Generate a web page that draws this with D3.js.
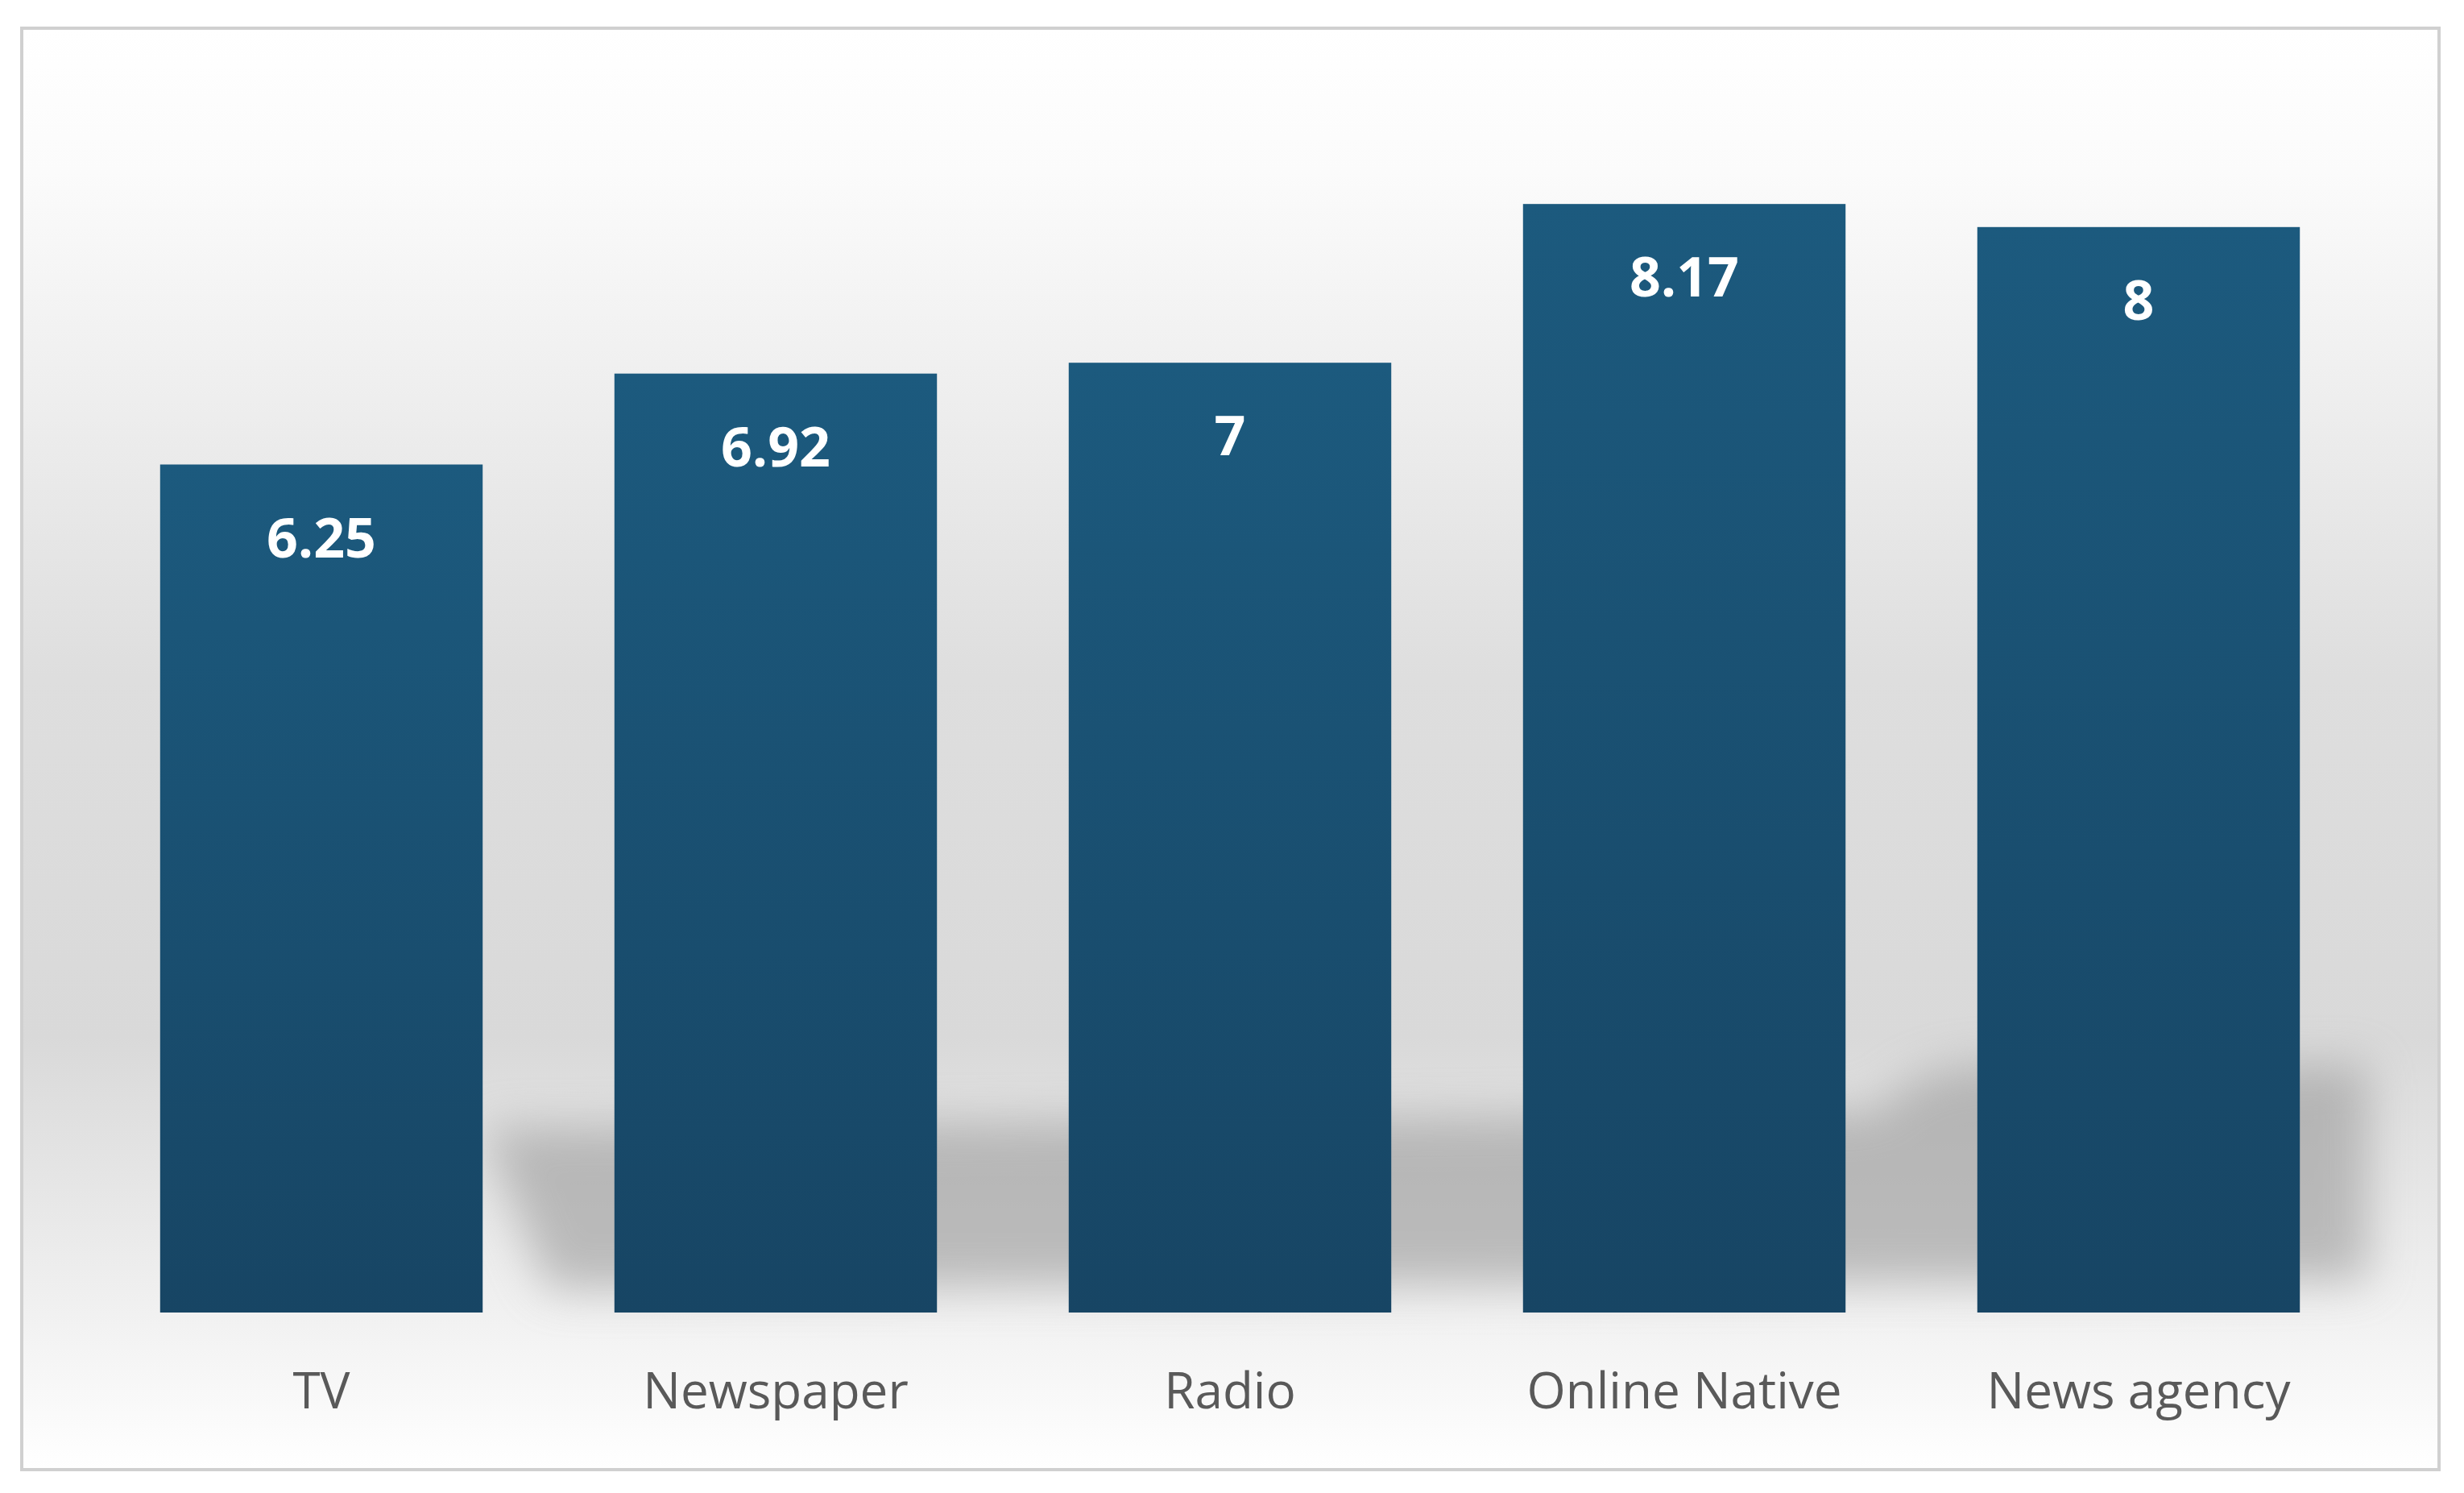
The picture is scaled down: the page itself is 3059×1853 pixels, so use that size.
<!DOCTYPE html>
<html><head><meta charset="utf-8">
<script src="https://cdn.jsdelivr.net/npm/d3@7"></script>
<style>body{margin:0;background:#fff}</style></head>
<body><svg id="c" width="3059" height="1853"></svg>
<script>
const categories = ["TV","Newspaper","Radio","Online Native","News agency"];
const values = [6.25, 6.92, 7, 8.17, 8];
const labels = ["6.25","6.92","7","8.17","8"];

const svg = d3.select("#c");
const defs = svg.append("defs");
const bg = defs.append("linearGradient").attr("id","bg").attr("x1",0).attr("y1",0).attr("x2",0).attr("y2",1);
[[0,"#ffffff"],[0.1,"#fbfbfb"],[0.45,"#dedede"],[0.7,"#d9d9d9"],[0.9,"#f2f2f2"],[1,"#ffffff"]].forEach(s=>bg.append("stop").attr("offset",s[0]).attr("stop-color",s[1]));
const bar = defs.append("linearGradient").attr("id","bar").attr("x1",0).attr("y1",0).attr("x2",0).attr("y2",1);
bar.append("stop").attr("offset",0).attr("stop-color","#1c5a7e");
bar.append("stop").attr("offset",1).attr("stop-color","#174564");
defs.append("filter").attr("id","blur").attr("x","-20%").attr("y","-50%").attr("width","140%").attr("height","200%")
  .append("feGaussianBlur").attr("stdDeviation",28);

svg.append("rect").attr("x",27).attr("y",35).attr("width",3001).attr("height",1789)
  .attr("fill","url(#bg)").attr("stroke","#d0d0d0").attr("stroke-width",4);

const x = d3.scaleBand().domain(categories).range([117,2937]).paddingInner(0.29).paddingOuter(0.145);
const y = d3.scaleLinear().domain([0,10]).range([1629,1629-1684]);

svg.append("path").attr("fill","#9a9a9a").attr("opacity",0.6).attr("filter","url(#blur)")
  .attr("d","M600,1400 L2330,1380 C2380,1320 2450,1310 2600,1330 L2940,1320 L2940,1590 L680,1600 Z");

svg.selectAll(".b").data(values).enter().append("rect")
  .attr("x",(d,i)=>x(categories[i])).attr("width",x.bandwidth())
  .attr("y",d=>y(d)).attr("height",d=>y(0)-y(d)).attr("fill","url(#bar)");

svg.selectAll(".v").data(values).enter().append("text")
  .attr("x",(d,i)=>x(categories[i])+x.bandwidth()/2).attr("y",d=>y(d)+115)
  .attr("text-anchor","middle").attr("fill","#fff").attr("font-family","Open Sans, sans-serif")
  .attr("font-weight","bold").attr("font-size",68).text((d,i)=>labels[i]);

svg.selectAll(".c").data(categories).enter().append("text")
  .attr("x",d=>x(d)+x.bandwidth()/2).attr("y",1748)
  .attr("text-anchor","middle").attr("fill","#595959").attr("font-family","Open Sans, sans-serif")
  .attr("font-size",62).text(d=>d);
</script></body></html>
